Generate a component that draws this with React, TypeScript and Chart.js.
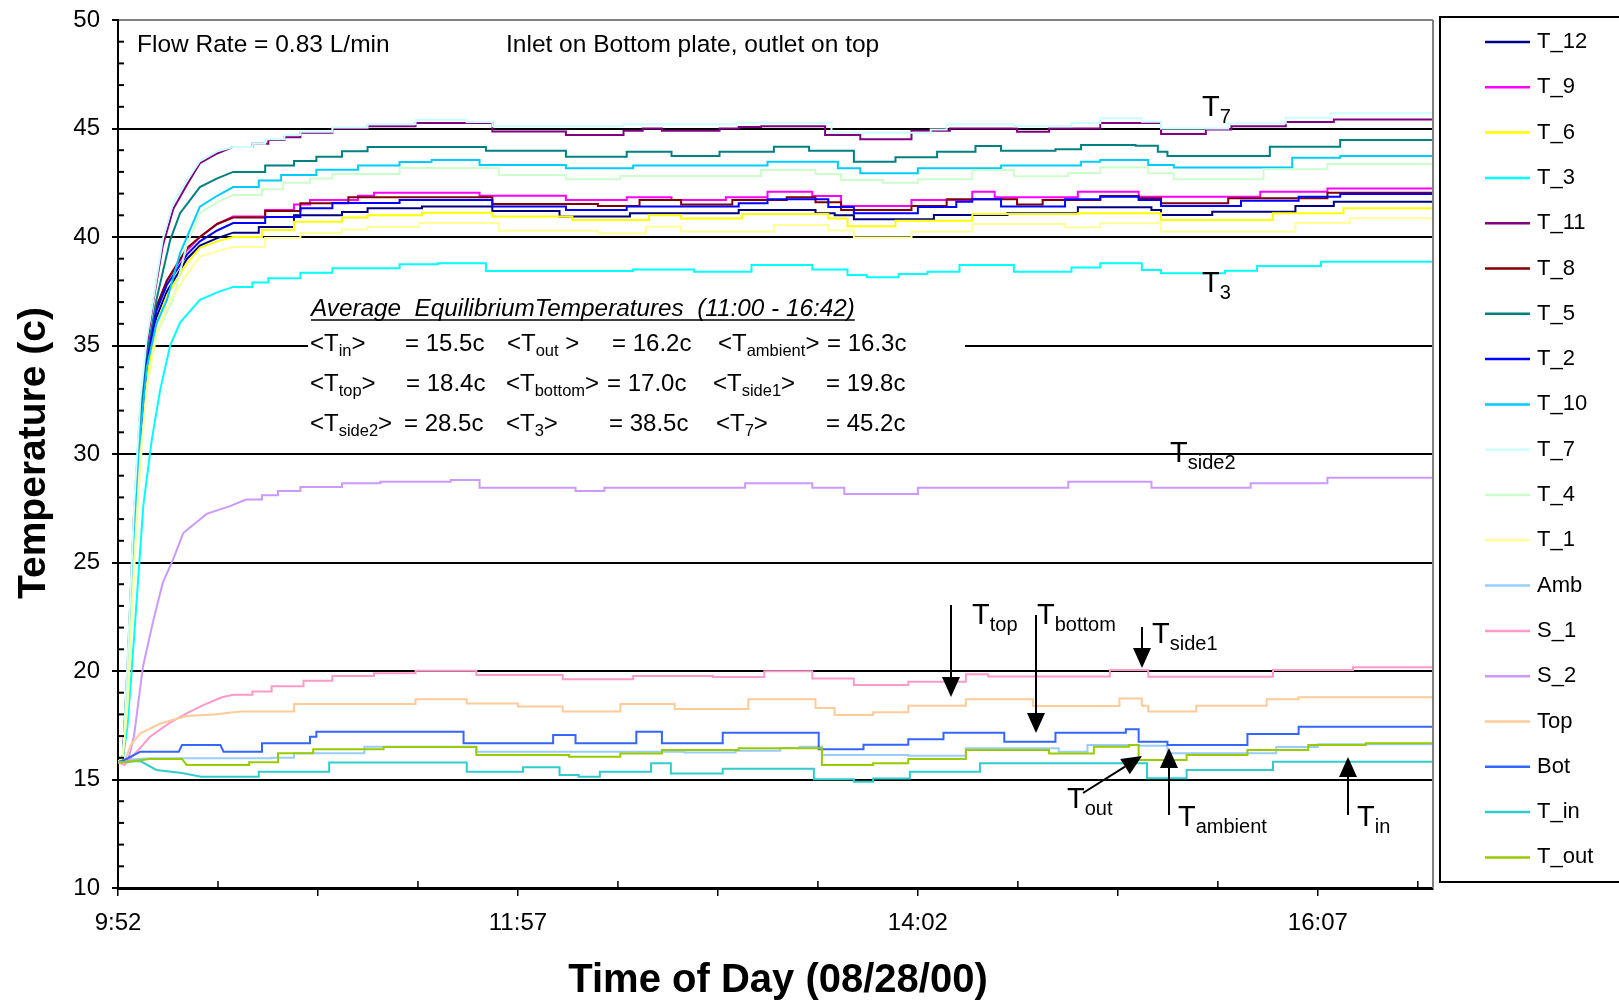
import { useEffect, useRef } from 'react';
import { Chart, registerables } from 'chart.js';
Chart.register(...registerables);

const FONT = "'Liberation Sans', Arial, Helvetica, sans-serif";
const X_MAX = 411; // minutes after 9:52
const RISE_END = 40; // points after this time are step changes

const seriesNames = ['T_12', 'T_9', 'T_6', 'T_3', 'T_11', 'T_8', 'T_5', 'T_2', 'T_10', 'T_7', 'T_4', 'T_1', 'Amb', 'S_1', 'S_2', 'Top', 'Bot', 'T_in', 'T_out'];
const seriesColors = ['#000080', '#FF00FF', '#FFFF00', '#00FFFF', '#800080', '#800000', '#008080', '#0000FF', '#00CCFF', '#CCFFFF', '#CCFFCC', '#FFFF99', '#99CCFF', '#FF99CC', '#CC99FF', '#FFCC99', '#3366FF', '#33CCCC', '#99CC00'];

const xTickValues = [0, 62.5, 125, 187.5, 250, 312.5, 375];
const xTickLabels = ['9:52', '', '11:57', '', '14:02', '', '16:07'];
const xMinorTicks = [31.25, 93.75, 156.25, 218.75, 281.25, 343.75, 406.25];

// [minutes after 9:52, temperature]
const T12 = [[0,15.8],[1.5,16],[3,19],[5,25.5],[7,30.3],[9,33.8],[12,36.3],[15.3,37.5],[21.6,39.0],[25.6,39.6],[31,39.95],[36,40.2],
  [44,40.46],[55,41.0],[70,41.15],[78,41.33],[95,41.4],[117,41.2],[138,40.94],[160,41.09],[194,41.24],[218,41.1],[224,41.0],[230,40.82],[255,41.01],[278,41.09],[300,41.37],[323,41.25],[326,41.01],[342,41.16],[368,41.43],[380,41.63],[411,41.63]];
const T9 = [[0,15.8],[1.5,16],[3,19.5],[5,26],[7,30.8],[9,34.3],[12,36.7],[15.3,38.0],[21.6,39.4],[25.6,40.0],[31,40.6],[36,40.94],
  [46,41.24],[55,41.5],[60,41.7],[75,41.9],[80,42.04],[113,41.9],[140,41.7],[159,41.83],[173,41.71],[190,41.83],[203,42.09],[217,41.89],[226,41.43],[248,41.71],[267,42.09],[274,41.83],[300,42.09],[319,41.86],[357,42.09],[378,42.24],[411,42.26]];
const T6 = [[0,15.8],[1.5,16],[3,18.8],[5,25],[7,30],[9,33.5],[12,36],[15.3,37.3],[21.6,38.8],[25.6,39.5],[31,39.8],[36,40.0],
  [45,40.32],[55,40.7],[70,40.9],[78,41.0],[95,41.12],[117,40.95],[142,40.78],[166,41.0],[176,40.85],[195,41.06],[222,40.85],[228,40.5],[243,40.75],[267,41.06],[300,41.1],[326,40.78],[361,41.1],[383,41.32],[411,41.32]];
const T3 = [[0,15.8],[1.5,15.9],[3,17.5],[5,21.5],[7.9,27.6],[10.5,30.6],[13.1,32.9],[16.3,35.0],[19.4,36.06],[25.6,37.1],[31,37.45],[36,37.7],
  [42,37.9],[47,38.1],[57,38.35],[67,38.56],[88,38.74],[100,38.79],[115,38.43],[161,38.5],[180,38.4],[198,38.71],[217,38.5],[228,38.25],[234,38.15],[244,38.3],[253,38.4],[263,38.71],[280,38.4],[298,38.6],[307,38.79],[320,38.48],[326,38.33],[346,38.45],[356,38.66],[376,38.86],[411,38.86]];
const T11 = [[0,15.8],[1.5,16],[3,20.3],[5,27.2],[7,32.2],[9,35],[11,37],[14,39.6],[17.3,41.3],[21.5,42.4],[25.6,43.4],[31,43.85],[36,44.15],
  [42,44.3],[47,44.47],[52,44.6],[57,44.8],[67,45.0],[78,45.1],[93,45.25],[117,44.86],[140,44.7],[158,44.9],[164,45.0],[170,44.9],[188,45.0],[194,45.07],[201,45.1],[221,44.7],[232,44.5],[248,44.9],[260,45.0],[281,44.85],[291,45.0],[307,45.25],[326,44.75],[340,44.95],[348,45.1],[365,45.3],[380,45.42],[411,45.42]];
const T8 = [[0,15.8],[1.5,16],[3,19.6],[5,26.1],[7,30.9],[9,34.4],[12,36.8],[15.3,38.0],[21.6,39.5],[25.6,40.0],[31,40.6],[36,40.9],
  [46,41.2],[57,41.55],[72,41.83],[117,41.52],[150,41.43],[163,41.71],[176,41.5],[192,41.71],[209,41.83],[218,41.6],[226,41.24],[248,41.43],[259,41.74],[281,41.5],[289,41.71],[307,41.89],[319,41.79],[326,41.55],[347,41.78],[378,42.04],[411,42.04]];
const T5 = [[0,15.8],[1.5,16],[3,20],[5,26.8],[7,31.8],[9,34.5],[12,37.1],[16.3,39.86],[19.4,41.1],[25.6,42.3],[31,42.7],[36,43.0],
  [46,43.3],[55,43.5],[62,43.7],[70,43.95],[78,44.15],[115,43.98],[140,43.7],[159,43.93],[173,43.73],[188,43.93],[205,44.16],[216,43.98],[230,43.47],[243,43.67],[256,43.93],[268,44.19],[276,43.98],[293,44.04],[301,44.24],[318,44.21],[325,43.93],[328,43.73],[360,44.16],[382,44.47],[411,44.47]];
const T2 = [[0,15.8],[1.5,16],[3,19.3],[5,25.8],[7,30.6],[9,34.2],[12,36.6],[15.3,37.8],[21.6,39.2],[25.6,39.8],[31,40.3],[36,40.64],
  [46,40.92],[57,41.33],[67,41.57],[88,41.7],[117,41.4],[140,41.24],[159,41.4],[194,41.55],[203,41.74],[222,41.38],[230,41.09],[250,41.38],[262,41.63],[267,41.74],[276,41.4],[296,41.74],[307,41.86],[319,41.71],[326,41.43],[351,41.67],[369,41.86],[382,41.98],[411,41.98]];
const T10 = [[0,15.8],[1.5,16],[3,19.5],[5,26],[7,31],[9,34],[12,36],[15.3,37.1],[19.4,39.26],[25.6,41.4],[31,41.9],[36,42.3],
  [44,42.6],[51,42.86],[62,43.1],[75,43.3],[88,43.46],[98,43.55],[113,43.32],[140,43.17],[161,43.3],[203,43.47],[225,43.17],[232,42.94],[250,43.17],[276,43.3],[301,43.47],[307,43.55],[322,43.32],[330,43.2],[367,43.65],[382,43.73],[411,43.73]];
const T7 = [[0,15.8],[1.5,16],[3,20.5],[5,27.5],[7,32.5],[9,35.3],[11,37.1],[14,39.9],[17.3,41.6],[21.5,42.6],[25.6,43.5],[31,43.95],[36,44.15],
  [42,44.3],[46,44.5],[52,44.7],[57,44.85],[67,45.05],[78,45.2],[93,45.4],[109,45.3],[117,45.1],[158,45.2],[193,45.27],[223,44.8],[254,44.95],[259,45.2],[280,45.1],[298,45.25],[307,45.47],[320,45.31],[326,45.0],[347,45.24],[365,45.5],[379,45.7],[411,45.7]];
const T4 = [[0,15.8],[1.5,16],[3,19],[5,25],[7,30],[9,33],[12,35.5],[17.2,37.1],[21.6,39.7],[25.6,41.1],[31,41.6],[36,41.94],
  [45,42.2],[51.6,42.5],[60,42.7],[67,42.9],[88,43.18],[119,42.86],[140,42.66],[157,42.81],[201,43.09],[218,42.9],[226,42.63],[239,42.5],[250,42.66],[267,43.09],[280,42.8],[297,42.95],[307,43.2],[322,42.94],[330,42.66],[358,43.12],[378,43.36],[411,43.36]];
const T1 = [[0,15.8],[1.5,16],[3,18.5],[5,24.5],[7,29.5],[9,33],[12,35.5],[15.3,36.8],[21.6,38.3],[25.6,39.1],[31,39.35],[36,39.54],
  [46,39.95],[57,40.18],[70,40.35],[78,40.46],[94,40.64],[119,40.29],[150,40.17],[165,40.47],[176,40.25],[205,40.55],[222,40.3],[230,39.98],[248,40.25],[267,40.6],[296,40.45],[307,40.63],[326,40.25],[368,40.65],[385,40.86],[411,40.86]];
const AMB = [[0,15.8],[2,15.9],[10,15.98],[36,15.98],
  [48,16.0],[55,16.21],[77,16.51],[112,16.28],[177,16.25],[193,16.33],[207,16.45],[213,16.51],[220,16.13],[247,16.1],[265,16.44],[294,16.28],[303,16.59],[319,16.55],[328,16.21],[362,16.5],[375,16.63],[411,16.59]];
const S1 = [[0,15.8],[2,15.67],[6,16.3],[10,16.97],[16,17.6],[21.4,18.05],[27,18.45],[32.5,18.79],[36,18.9],
  [42,19.05],[48,19.3],[58,19.55],[67,19.77],[80,19.9],[93,20.01],[112,19.82],[139,19.62],[161,19.77],[186,19.72],[202,19.99],[217,19.66],[230,19.35],[247,19.5],[265,19.85],[272,19.75],[310,20.05],[322,19.74],[361,20.05],[386,20.17],[411,20.2]];
const S2 = [[0,15.8],[3,15.8],[5,17],[7.8,20.2],[11,22.3],[14,24.07],[17.2,25.13],[20.4,26.36],[27.7,27.24],[35,27.6],[40,27.9],
  [45,28.1],[50,28.3],[57,28.48],[70,28.65],[82,28.72],[104,28.8],[113,28.45],[143,28.3],[152,28.45],[196,28.65],[217,28.45],[227,28.16],[250,28.45],[297,28.72],[323,28.45],[354,28.65],[378,28.91],[411,28.95]];
const TOP = [[0,15.8],[2,15.8],[4,16.6],[7,17.13],[13.4,17.59],[21.4,17.93],[30,18.0],[36,18.1],
  [39,18.13],[55,18.48],[93,18.7],[109,18.5],[125,18.36],[139,18.13],[157,18.48],[174,18.25],[197,18.7],[218,18.3],[224,17.97],[236,18.1],[247,18.4],[265,18.7],[286,18.39],[313,18.73],[320,18.4],[322,18.13],[337,18.4],[359,18.7],[369,18.79],[411,18.79]];
const BOT = [[0,15.8],[2,15.9],[7,16.28],[19,16.28],[20,16.59],[32,16.59],[33,16.28],[36,16.28],
  [45,16.67],[60,16.97],[62,17.2],[108,16.67],[136,17.05],[143,16.67],[162,17.2],[170,16.67],[189,17.16],[219,16.39],[233,16.6],[247,16.85],[258,17.16],[277,16.74],[293,17.16],[315,17.31],[319,16.74],[328,16.59],[353,17.1],[369,17.43],[411,17.4]];
const TIN = [[0,15.8],[7,15.85],[12,15.44],[20,15.3],[26,15.13],[36,15.13],
  [44,15.36],[66,15.78],[109,15.36],[126.6,15.56],[138,15.21],[144,15.13],[150.6,15.36],[166.6,15.75],[172.8,15.28],[189,15.5],[217.5,15.01],[230,14.9],[236,15.05],[247.5,15.36],[269.4,15.75],[321.6,15.06],[334,15.44],[361,15.82],[411,15.87]];
const TOUT = [[0,15.8],[2,15.8],[10,15.95],[20,15.95],[21.4,15.67],[36,15.67],
  [41,15.8],[50,16.21],[61,16.39],[83,16.5],[112,16.13],[141,16.05],[157,16.2],[170,16.36],[194,16.44],[220,15.67],[236,15.75],[247,15.95],[265,16.36],[291,16.2],[305,16.51],[316,16.59],[319,15.9],[334,16.13],[353,16.36],[372,16.59],[390,16.67],[411,16.67]];

const seriesData = [T12, T9, T6, T3, T11, T8, T5, T2, T10, T7, T4, T1, AMB, S1, S2, TOP, BOT, TIN, TOUT];

// annotation texts
const flowText = 'Flow Rate = 0.83 L/min';
const inletText = 'Inlet on Bottom plate, outlet on top';
const tableTitle = 'Average  EquilibriumTemperatures  (11:00 - 16:42)';
type Part = string | { sub: string };
const tableRows: { y: number; cells: [number, Part[]][] }[] = [
  { y: 351, cells: [[310, ['<T', { sub: 'in' }, '>']], [405, ['= 15.5c']], [507, ['<T', { sub: 'out' }, ' >']], [612, ['= 16.2c']], [718, ['<T', { sub: 'ambient' }, '>']], [827, ['= 16.3c']]] },
  { y: 391, cells: [[310, ['<T', { sub: 'top' }, '>']], [406, ['= 18.4c']], [506, ['<T', { sub: 'bottom' }, '>']], [607, ['= 17.0c']], [713, ['<T', { sub: 'side1' }, '>']], [826, ['= 19.8c']]] },
  { y: 431, cells: [[310, ['<T', { sub: 'side2' }, '>']], [404, ['= 28.5c']], [506, ['<T', { sub: '3' }, '>']], [609, ['= 38.5c']], [716, ['<T', { sub: '7' }, '>']], [826, ['= 45.2c']]] },
];
const curveLabels: [number, number, string][] = [
  [1202, 116, '7'], [1202, 292, '3'], [1170, 462, 'side2'], [972, 624, 'top'], [1037, 624, 'bottom'],
  [1152, 643, 'side1'], [1067, 808, 'out'], [1178, 826, 'ambient'], [1357, 826, 'in'],
];
const arrows: [number, number, number, number][] = [
  [951, 605, 951, 697], [1036, 615, 1036, 733], [1142, 627, 1142, 668],
  [1083, 793, 1142, 756], [1169, 815, 1169, 748], [1348, 815, 1348, 757],
];

function toPoints(pairs: number[][]) {
  const out: { x: number; y: number }[] = [];
  let prev: number | null = null;
  for (const [t, v] of pairs) {
    if (prev !== null && t > RISE_END) out.push({ x: t, y: prev });
    out.push({ x: t, y: v });
    prev = v;
  }
  return out;
}

function drawRich(ctx: CanvasRenderingContext2D, x: number, y: number, parts: Part[], size: number, subSize: number, subDy: number, style = '') {
  let cx = x;
  for (const p of parts) {
    const isSub = typeof p !== 'string';
    const text = isSub ? (p as { sub: string }).sub : (p as string);
    ctx.font = `${style}${isSub ? subSize : size}px ${FONT}`;
    ctx.fillText(text, cx, y + (isSub ? subDy : 0));
    cx += ctx.measureText(text).width;
  }
  return cx - x;
}

function drawArrow(ctx: CanvasRenderingContext2D, x1: number, y1: number, x2: number, y2: number) {
  const len = Math.hypot(x2 - x1, y2 - y1);
  const ux = (x2 - x1) / len, uy = (y2 - y1) / len;
  const head = 20, hw = 9;
  const bx = x2 - ux * head, by = y2 - uy * head;
  ctx.beginPath();
  ctx.moveTo(x1, y1);
  ctx.lineTo(bx, by);
  ctx.lineWidth = 2;
  ctx.strokeStyle = '#000';
  ctx.stroke();
  ctx.beginPath();
  ctx.moveTo(x2, y2);
  ctx.lineTo(bx - uy * hw, by + ux * hw);
  ctx.lineTo(bx + uy * hw, by - ux * hw);
  ctx.closePath();
  ctx.fillStyle = '#000';
  ctx.fill();
}

const decorPlugin = {
  id: 'decor',
  beforeDatasetsDraw(chart: any) {
    const ctx = chart.ctx as CanvasRenderingContext2D;
    ctx.save();
    ctx.fillStyle = '#fff';
    ctx.fillRect(308, 290, 657, 150);
    ctx.restore();
  },
  afterDraw(chart: any) {
    const ctx = chart.ctx as CanvasRenderingContext2D;
    const a = chart.chartArea;
    const xs = chart.scales.x, ys = chart.scales.y;
    ctx.save();
    // right plot border
    ctx.strokeStyle = '#808080';
    ctx.lineWidth = 2;
    ctx.beginPath();
    ctx.moveTo(a.right, a.top);
    ctx.lineTo(a.right, a.bottom);
    ctx.stroke();
    // minor ticks
    ctx.strokeStyle = '#000';
    ctx.lineWidth = 2;
    for (let v = 11; v < 50; v++) {
      if (v % 5 === 0) continue;
      const y = ys.getPixelForValue(v);
      ctx.beginPath();
      ctx.moveTo(a.left, y);
      ctx.lineTo(a.left + 6, y);
      ctx.stroke();
    }
    ctx.lineWidth = 1.5;
    for (const t of xMinorTicks) {
      const x = xs.getPixelForValue(t);
      ctx.beginPath();
      ctx.moveTo(x, a.bottom);
      ctx.lineTo(x, a.bottom - 7);
      ctx.stroke();
    }
    // legend
    ctx.lineWidth = 2;
    ctx.strokeStyle = '#000';
    ctx.strokeRect(1440, 17, 200, 865);
    ctx.textBaseline = 'middle';
    ctx.textAlign = 'left';
    ctx.font = `22px ${FONT}`;
    chart.data.datasets.forEach((ds: any, i: number) => {
      const y = 42 + i * 45.3;
      ctx.strokeStyle = ds.borderColor;
      ctx.lineWidth = 2.5;
      ctx.beginPath();
      ctx.moveTo(1485, y);
      ctx.lineTo(1530, y);
      ctx.stroke();
      ctx.fillStyle = '#000';
      ctx.fillText(ds.label, 1537, y);
    });
    // texts
    ctx.textBaseline = 'alphabetic';
    ctx.fillStyle = '#000';
    ctx.font = `24.5px ${FONT}`;
    ctx.fillText(flowText, 137, 52);
    ctx.fillText(inletText, 506, 52);
    ctx.font = `italic 24.3px ${FONT}`;
    ctx.fillText(tableTitle, 311, 316);
    const tw = ctx.measureText(tableTitle).width;
    ctx.lineWidth = 1.5;
    ctx.strokeStyle = '#000';
    ctx.beginPath();
    ctx.moveTo(311, 320);
    ctx.lineTo(311 + tw, 320);
    ctx.stroke();
    for (const row of tableRows) {
      for (const [x, parts] of row.cells) drawRich(ctx, x, row.y, parts, 24, 16.5, 5);
    }
    for (const [x, y, sub] of curveLabels) drawRich(ctx, x, y, ['T', { sub }], 29, 20, 7);
    for (const [x1, y1, x2, y2] of arrows) drawArrow(ctx, x1, y1, x2, y2);
    // axis titles
    ctx.fillStyle = '#000';
    ctx.textAlign = 'center';
    ctx.textBaseline = 'middle';
    ctx.font = `bold 40px ${FONT}`;
    ctx.fillText('Time of Day (08/28/00)', 778, 981);
    ctx.translate(34, 453);
    ctx.rotate(-Math.PI / 2);
    ctx.font = `bold 39px ${FONT}`;
    ctx.fillText('Temperature (c)', 0, 0);
    ctx.restore();
  },
};

export default function App() {
  const ref = useRef<HTMLCanvasElement>(null);
  useEffect(() => {
    document.body.style.margin = '0';
    document.body.style.overflow = 'hidden';
    const n = seriesNames.length;
    const chart = new Chart(ref.current as HTMLCanvasElement, {
      type: 'line',
      data: {
        datasets: seriesNames.map((name, i) => ({
          label: name,
          data: toPoints(seriesData[i]),
          borderColor: seriesColors[i],
          backgroundColor: seriesColors[i],
          borderWidth: 2,
          pointRadius: 0,
          fill: false,
          tension: 0,
          order: n - 1 - i,
        })),
      },
      options: {
        responsive: false,
        animation: false,
        devicePixelRatio: 1,
        layout: { padding: { left: 0, right: 186, top: 20, bottom: 0 } },
        plugins: { legend: { display: false }, tooltip: { enabled: false } },
        scales: {
          x: {
            type: 'linear',
            min: 0,
            max: X_MAX,
            afterFit: (s: any) => { s.height = 115; s.paddingLeft = 0; s.paddingRight = 0; },
            afterBuildTicks: (s: any) => { s.ticks = xTickValues.map((value) => ({ value })); },
            ticks: {
              autoSkip: false,
              maxRotation: 0,
              padding: 13,
              color: '#000',
              font: { size: 24, family: FONT },
              callback: (_v: any, i: number) => xTickLabels[i] ?? '',
            },
            grid: { drawOnChartArea: false, drawTicks: true, tickLength: 8, color: '#000', lineWidth: 1.5 },
            border: { display: true, color: '#000', width: 3 },
          },
          y: {
            min: 10,
            max: 50,
            afterFit: (s: any) => { s.width = 118; s.paddingTop = 0; s.paddingBottom = 0; },
            ticks: { stepSize: 5, padding: 12, color: '#000', font: { size: 24, family: FONT } },
            grid: {
              color: (c: any) => (c.tick && c.tick.value === 50 ? '#808080' : '#000'),
              lineWidth: 2,
              drawTicks: true,
              tickLength: 6,
              tickColor: '#000',
              tickWidth: 2,
            },
            border: { display: true, color: '#000', width: 2 },
          },
        },
      },
      plugins: [decorPlugin],
    } as any);
    return () => chart.destroy();
  }, []);
  return (
    <div style={{ width: 1619, height: 1003, background: '#fff' }}>
      <canvas ref={ref} width={1619} height={1003} style={{ display: 'block', width: 1619, height: 1003 }} />
    </div>
  );
}
